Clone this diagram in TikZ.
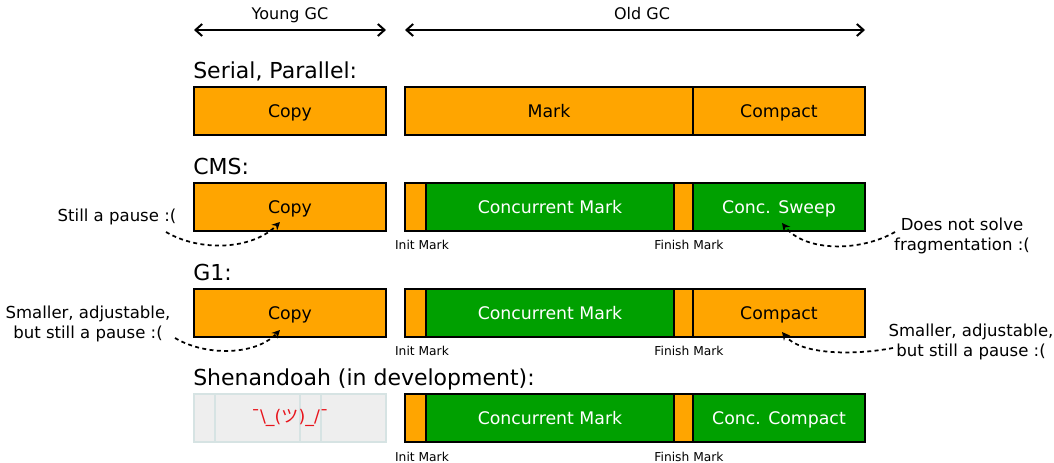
\documentclass[tikz,border=0pt]{standalone}
\usepackage{fontspec}
\setmainfont{DejaVu Sans}
\newfontfamily\cjk{Noto Sans CJK JP}
\usetikzlibrary{arrows.meta}
\definecolor{gcorange}{HTML}{FFA500}
\definecolor{gcgreen}{HTML}{00A000}
\definecolor{shgray}{HTML}{EEEEEE}
\definecolor{shedge}{HTML}{D6E3E3}
\definecolor{shred}{HTML}{E8141C}
\tikzset{
  segbox/.style={draw=black, line width=1.3pt, inner sep=0pt, outer sep=0pt,
    text height=9.5pt, text depth=0pt, font=\fontsize{13}{15}\selectfont},
  head/.style={anchor=base west, inner sep=0pt, font=\fontsize{16.5}{19}\selectfont},
  smalllbl/.style={anchor=base, inner sep=0pt, font=\fontsize{9.2}{11}\selectfont},
  note/.style={align=center, inner sep=0pt, font=\fontsize{12.4}{15}\selectfont},
  toplbl/.style={anchor=base, inner sep=0pt, font=\fontsize{12}{14}\selectfont},
  span/.style={{Straight Barb[length=5pt,width=9pt]}-{Straight Barb[length=5pt,width=9pt]}, line width=1.5pt},
  callout/.style={-{Stealth[open,length=6pt,width=6pt]}, line width=1.3pt, dash pattern=on 3pt off 2.5pt},
}
\newcommand{\seg}[7]{\node[segbox, fill=#6, minimum width={(#3-#2)*0.75pt}, minimum height={(#5-#4)*0.75pt}] (#1) at ({(#2+#3)/2},{(#4+#5)/2}) {#7};}
\begin{document}
\begin{tikzpicture}[x=0.75pt,y=-0.75pt]
\path[use as bounding box, fill=white] (0,0) rectangle (1054,463);
% top spans
\coordinate (yl) at (194,30); \coordinate (yr) at (386,30);
\coordinate (ol) at (405,30); \coordinate (or) at (865,30);
\draw[span] (yl) -- (yr);
\draw[span] (ol) -- (or);
\node[toplbl] (younglbl) at (290,20) {Young GC};
\node[toplbl] (oldlbl) at (642,20) {Old GC};
% Serial, Parallel
\node[head] (h1) at (193,79) {Serial, Parallel:};
\seg{sp-copy}{194}{386}{87}{135}{gcorange}{Copy}
\seg{sp-mark}{405}{693}{87}{135}{gcorange}{Mark}
\seg{sp-compact}{693}{865}{87}{135}{gcorange}{Compact}
% CMS
\node[head] (h2) at (193,175) {CMS:};
\seg{cms-copy}{194}{386}{183}{231}{gcorange}{Copy}
\seg{cms-init}{405}{426}{183}{231}{gcorange}{}
\seg{cms-cm}{426}{674}{183}{231}{gcgreen}{\color{white}Concurrent Mark}
\seg{cms-fin}{674}{693}{183}{231}{gcorange}{}
\seg{cms-sweep}{693}{865}{183}{231}{gcgreen}{\color{white}Conc. Sweep}
\node[smalllbl] (cms-il) at (422,250) {Init Mark};
\node[smalllbl] (cms-fl) at (689,250) {Finish Mark};
\node[note, anchor=base] (n1) at (117,222) {Still a pause :(};
\node[note] (n2) at (962,236) {Does not solve\\fragmentation :(};
\coordinate (n1s) at (166,232); \coordinate (n1e) at (280,222);
\coordinate (n2s) at (895,232); \coordinate (n2e) at (782,223);
\draw[callout] (n1s) .. controls (200,252) and (252,250) .. (n1e);
\draw[callout] (n2s) .. controls (860,252) and (805,252) .. (n2e);
% G1
\node[head] (h3) at (193,281) {G1:};
\seg{g1-copy}{194}{386}{289}{337}{gcorange}{Copy}
\seg{g1-init}{405}{426}{289}{337}{gcorange}{}
\seg{g1-cm}{426}{674}{289}{337}{gcgreen}{\color{white}Concurrent Mark}
\seg{g1-fin}{674}{693}{289}{337}{gcorange}{}
\seg{g1-compact}{693}{865}{289}{337}{gcorange}{Compact}
\node[smalllbl] (g1-il) at (422,356) {Init Mark};
\node[smalllbl] (g1-fl) at (689,356) {Finish Mark};
\node[note] (n3) at (88,324) {Smaller, adjustable,\\but still a pause :(};
\node[note] (n4) at (971,342) {Smaller, adjustable,\\but still a pause :(};
\coordinate (n3s) at (175,338); \coordinate (n3e) at (280,330);
\coordinate (n4s) at (893,348); \coordinate (n4e) at (782,332);
\draw[callout] (n3s) .. controls (205,356) and (255,356) .. (n3e);
\draw[callout] (n4s) .. controls (850,356) and (800,354) .. (n4e);
% Shenandoah
\node[head] (h4) at (193,386) {Shenandoah (in development):};
\node[draw=shedge, fill=shgray, line width=1.5pt, inner sep=0pt, minimum width={192*0.75pt}, minimum height={48*0.75pt}] (sh-young) at (290,418) {};
\draw[shedge, line width=1.5pt] (215,394) -- (215,442) (300,394) -- (300,442) (321,394) -- (321,442);
\node[inner sep=0pt, text=shred, font=\fontsize{13}{15}\selectfont] (shrug) at (sh-young.center) {¯\textbackslash\_({\cjk ツ})\_/¯};
\seg{sh-init}{405}{426}{394}{442}{gcorange}{}
\seg{sh-cm}{426}{674}{394}{442}{gcgreen}{\color{white}Concurrent Mark}
\seg{sh-fin}{674}{693}{394}{442}{gcorange}{}
\seg{sh-cc}{693}{865}{394}{442}{gcgreen}{\color{white}Conc. Compact}
\node[smalllbl] (sh-il) at (422,461) {Init Mark};
\node[smalllbl] (sh-fl) at (689,461) {Finish Mark};
\end{tikzpicture}
\end{document}
